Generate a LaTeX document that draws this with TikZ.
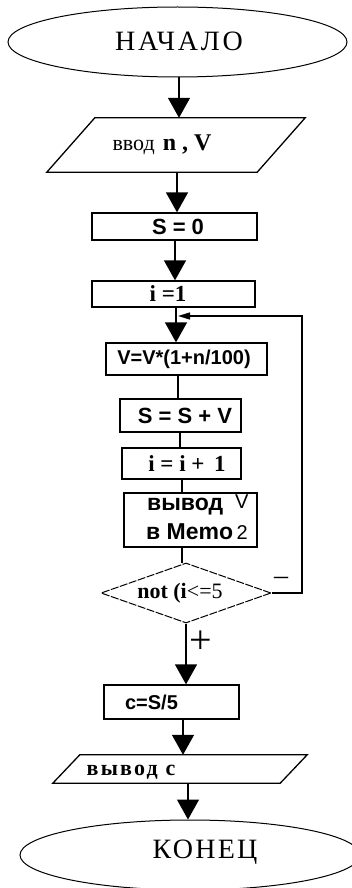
\documentclass[tikz,border=0pt]{standalone}
\usepackage{fontspec}
\setmainfont{Liberation Serif}
\newfontfamily\sansf{Liberation Sans}
\usetikzlibrary{shapes.geometric,arrows.meta}
\newcommand{\fsz}[1]{\fontsize{#1}{#1}\selectfont}
\begin{document}
\begin{tikzpicture}[x=1pt,y=-1pt,
  flow/.style={line width=1.3pt},
  arr/.style={line width=1.3pt,-{Triangle[width=22pt,length=20pt]}},
  blk/.style={draw,line width=1.3pt,rectangle,inner sep=0pt},
  term/.style={draw,line width=1pt,ellipse,inner sep=0pt},
  ghost/.style={rectangle,inner sep=0pt},
  txt/.style={inner sep=0pt},
  sbold/.style={txt,font=\sansf\bfseries\fsz{#1}},
  rbold/.style={txt,font=\bfseries\fsz{#1}}
]
\useasboundingbox (0,0) rectangle (352,888);
\fill[white] (0,0) rectangle (352,888);

% x columns of the main line
\coordinate (xa) at (179,0);
\coordinate (xb) at (177,0);
\coordinate (xc) at (175,0);
\coordinate (xd) at (176,0);
\coordinate (xe) at (178,0);
\coordinate (xf) at (180,0);
\coordinate (xg) at (182,0);
\coordinate (xh) at (186,0);
\coordinate (xi) at (183,0);
\coordinate (xj) at (188,0);
\coordinate (rx) at (302,0);
\coordinate (merge) at (178,316);

% start
\node[term,minimum width=339pt,minimum height=70pt] (start) at (177.5,42) {};
\node[txt,font=\addfontfeature{LetterSpace=10}\fsz{28}] (startt) at (179,41) {НАЧАЛО};

% input
\node[ghost,minimum width=258pt,minimum height=54pt] (in) at (176,145) {};
\draw[flow] (in.south west) -- ([xshift=48pt]in.north west) -- (in.north east) -- ([xshift=-48pt]in.south east) -- cycle;
\node[txt] (int) at (162,145) {\fsz{22}ввод\hspace{8pt}{\bfseries\fsz{24}n , V}};

% S = 0
\node[blk,minimum width=165pt,minimum height=27pt] (s0) at (174.5,226.5) {};
\node[sbold=22] (s0t) at (178,227) {S = 0};

% i = 1
\node[blk,minimum width=163pt,minimum height=26pt] (i1) at (173.5,294) {};
\node[rbold=23] (i1t) at (168,294) {i =1};

% V = ...
\node[blk,minimum width=161pt,minimum height=32pt] (vv) at (186.5,359) {};
\node[sbold=20] (vvt) at (184,359) {V=V*(1+n/100)};

% S = S + V
\node[blk,minimum width=121pt,minimum height=33pt] (ss) at (180.5,415.5) {};
\node[sbold=22] (sst) at (185,416) {S = S + V};

% i = i + 1
\node[blk,minimum width=119pt,minimum height=31pt] (ii) at (181.5,463.5) {};
\node[rbold=23] (iit) at (187,464) {i = i +\, 1};

% output V
\node[blk,minimum width=133pt,minimum height=54pt] (out) at (190.5,520) {};
\node[txt,anchor=west] (outa) at (147,505) {{\sansf\bfseries\fsz{23}вывод}\hspace{12pt}{\sansf\fsz{20}\raisebox{2pt}{V}}};
\node[txt,anchor=west] (outb) at (146,532) {{\sansf\bfseries\fsz{23}в Memo}{\sansf\fsz{20}\,2}};

% decision
\node[draw,diamond,line width=1pt,dash pattern=on 8pt off 1.5pt,aspect=2.833,minimum width=170pt,minimum height=60pt,inner sep=0pt] (dia) at (186,593) {};
\node[txt] (diat) at (180,593) {{\bfseries\fsz{22}not (i}{\fsz{22}<=5}};

% c = S/5
\node[blk,minimum width=135pt,minimum height=34pt] (cc) at (171.5,702) {};
\node[sbold=20] (cct) at (151.5,702) {c=S/5};

% output c
\node[ghost,minimum width=254pt,minimum height=28pt] (oc) at (180,769) {};
\draw[flow] (oc.south west) -- ([xshift=27pt]oc.north west) -- (oc.north east) -- ([xshift=-27pt]oc.south east) -- cycle;
\node[txt,font=\bfseries\addfontfeature{LetterSpace=10}\fsz{22}] (oct) at (131,772) {вывод c};

% end
\node[term,minimum width=340pt,minimum height=70pt] (end) at (190,855) {};
\node[txt,font=\addfontfeature{LetterSpace=8}\fsz{28}] (endt) at (205,852) {КОНЕЦ};

% connectors
\draw[arr] (start.south -| xa) -- (in.north -| xa);
\draw[arr] (in.south -| xb) -- (s0.north -| xb);
\draw[arr] (s0.south -| xc) -- (i1.north -| xc);
\draw[arr] (i1.south -| xd) -- (vv.north -| xd);
\draw[flow] (vv.south -| xe) -- (ss.north -| xe);
\draw[flow] (ss.south -| xf) -- (ii.north -| xf);
\draw[flow] (ii.south -| xg) -- (out.north -| xg);
\draw[flow] (out.south -| xg) -- (dia.north -| xg);
\draw[arr] (dia.south -| xh) -- (cc.north -| xh)
  node[pos=0.3,right=3pt,txt,font=\fsz{40}] (plus) {+};
\draw[arr] (cc.south -| xi) -- (oc.north -| xi);
\draw[arr] (oc.south -| xj) -- (end.north -| xj);
\draw[flow,-{Triangle[width=7pt,length=12pt]}] (dia.east) -- (dia.east -| rx) -- (rx |- merge) -- (merge);
\node[txt,font=\fsz{28}] (minus) at (281,581) {–};
\end{tikzpicture}
\end{document}
